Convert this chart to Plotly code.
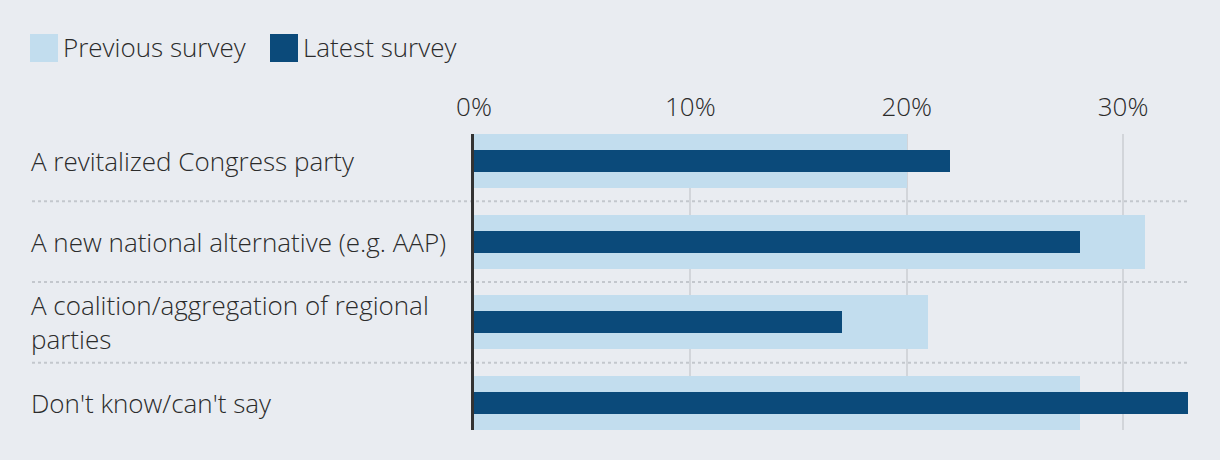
import plotly.graph_objects as go

categories = [
    "A revitalized Congress party",
    "A new national alternative (e.g. AAP)",
    "A coalition/aggregation of regional<br>parties",
    "Don't know/can't say",
]
previous_survey = [20, 31, 21, 28]
latest_survey = [22, 28, 17, 33]
series_names = ["Previous survey", "Latest survey"]
tick_values = [0, 10, 20, 30]
tick_labels = ["0%", "10%", "20%", "30%"]

LIGHT = "#c2ddee"
DARK = "#0b4a7a"
BG = "#e9ecf1"
TEXT = "#2b2b2b"
FONT = "Open Sans"
FS = 26
FW = 300

W, H = 1220, 460
ML, MR, MT, MB = 474, 32, 134, 30
light_w = 0.67
dark_w = 0.273

pos = list(range(len(categories)))

fig = go.Figure()
fig.add_trace(go.Bar(y=pos, x=previous_survey, orientation="h", name=series_names[0],
                     marker=dict(color=LIGHT, line=dict(width=0)), width=light_w,
                     hoverinfo="skip"))
fig.add_trace(go.Bar(y=pos, x=latest_survey, orientation="h", name=series_names[1],
                     marker=dict(color=DARK, line=dict(width=0)), width=dark_w,
                     hoverinfo="skip"))

pw = W - ML - MR
ph = H - MT - MB


def px_x(px):
    return (px - ML) / pw


def px_y(py):
    return (H - MB - py) / ph


tfont = dict(family=FONT, size=FS, color=TEXT, weight=FW)

shapes = []
annotations = []
# row separators (dotted)
for i in range(len(categories) - 1):
    shapes.append(dict(type="line", xref="paper", yref="y", x0=px_x(32), x1=1,
                       y0=i + 0.5, y1=i + 0.5,
                       line=dict(color="#c3c7cd", width=2, dash="dot"), layer="below"))
# category labels
for i, c in enumerate(categories):
    annotations.append(dict(xref="paper", yref="y", x=px_x(29), y=i, text=c,
                            showarrow=False, xanchor="left", yanchor="middle",
                            align="left", font=tfont))
# legend
leg_x = [30, 270]
for name, col, lx in zip(series_names, [LIGHT, DARK], leg_x):
    shapes.append(dict(type="rect", xref="paper", yref="paper",
                       x0=px_x(lx), x1=px_x(lx + 28), y0=px_y(62), y1=px_y(34),
                       fillcolor=col, line=dict(width=0)))
    annotations.append(dict(xref="paper", yref="paper", x=px_x(lx + 31), y=px_y(47),
                            text=name, showarrow=False, xanchor="left", yanchor="middle",
                            font=tfont))

fig.update_layout(
    width=W, height=H,
    margin=dict(l=ML, r=MR, t=MT, b=MB, pad=0),
    paper_bgcolor=BG, plot_bgcolor=BG,
    barmode="overlay", bargap=0,
    showlegend=False,
    shapes=shapes, annotations=annotations,
    font=tfont,
    xaxis=dict(range=[0, 33], side="top", tickvals=tick_values, ticktext=tick_labels,
               showgrid=True, gridcolor="#d2d5da", gridwidth=2, zeroline=False,
               ticks="", ticklabelstandoff=12, showline=False, fixedrange=True,
               tickfont=tfont),
    yaxis=dict(range=[len(categories) - 1 + light_w / 2, -light_w / 2],
               showticklabels=False, showgrid=False, zeroline=False, ticks="",
               showline=True, linecolor="#333333", linewidth=3, fixedrange=True),
)

fig.write_html("out.html", config={"displayModeBar": False},
               post_script="document.body.style.margin='0';document.body.style.background='" + BG + "';")
